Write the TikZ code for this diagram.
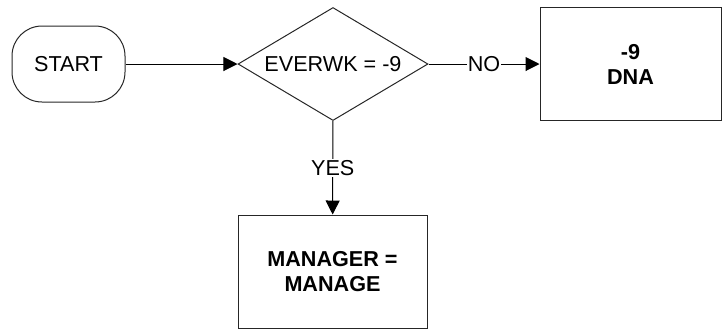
\documentclass[tikz,border=0pt]{standalone}
\usepackage{fontspec}
\setmainfont{Liberation Sans}
\usetikzlibrary{positioning,arrows.meta,shapes.geometric}

\begin{document}
\begin{tikzpicture}[
    x=0.5pt, y=-0.5pt,
    every node/.style={font=\fontsize{10.8pt}{12.5pt}\selectfont},
    term/.style={draw=black!85, rounded corners=15pt, minimum width=56.5pt, minimum height=38pt,
                 inner sep=0pt, line width=0.5pt},
    dec/.style={draw=black!85, diamond, aspect=1.68, minimum width=95pt, minimum height=56.5pt,
                inner sep=0pt, line width=0.5pt},
    proc/.style={draw=black!85, minimum width=#1, minimum height=56.5pt, inner sep=0pt,
                 align=center, line width=0.5pt, font=\fontsize{10.8pt}{12.5pt}\selectfont\bfseries},
    lbl/.style={fill=white, inner sep=0.6pt},
    arr/.style={-{Triangle[length=7pt, width=7pt]}, line width=0.5pt}
  ]
  \useasboundingbox (0,0) rectangle (724,329);

  \node[term] (start) at (68.5,64)   {START};
  \node[dec]  (chk)   at (333,64)    {EVERWK = -9};
  \node[proc=90.5pt] (dna) at (630.5,64)  {-9\\DNA};
  \node[proc=94.5pt] (mgr) at (332.5,271.5) {MANAGER =\\MANAGE};

  \draw[arr] (start) -- (chk);
  \draw[arr] (chk) -- node[lbl] {NO} (dna);
  \draw[arr] (chk) -- node[lbl] {YES} (mgr);
\end{tikzpicture}
\end{document}
